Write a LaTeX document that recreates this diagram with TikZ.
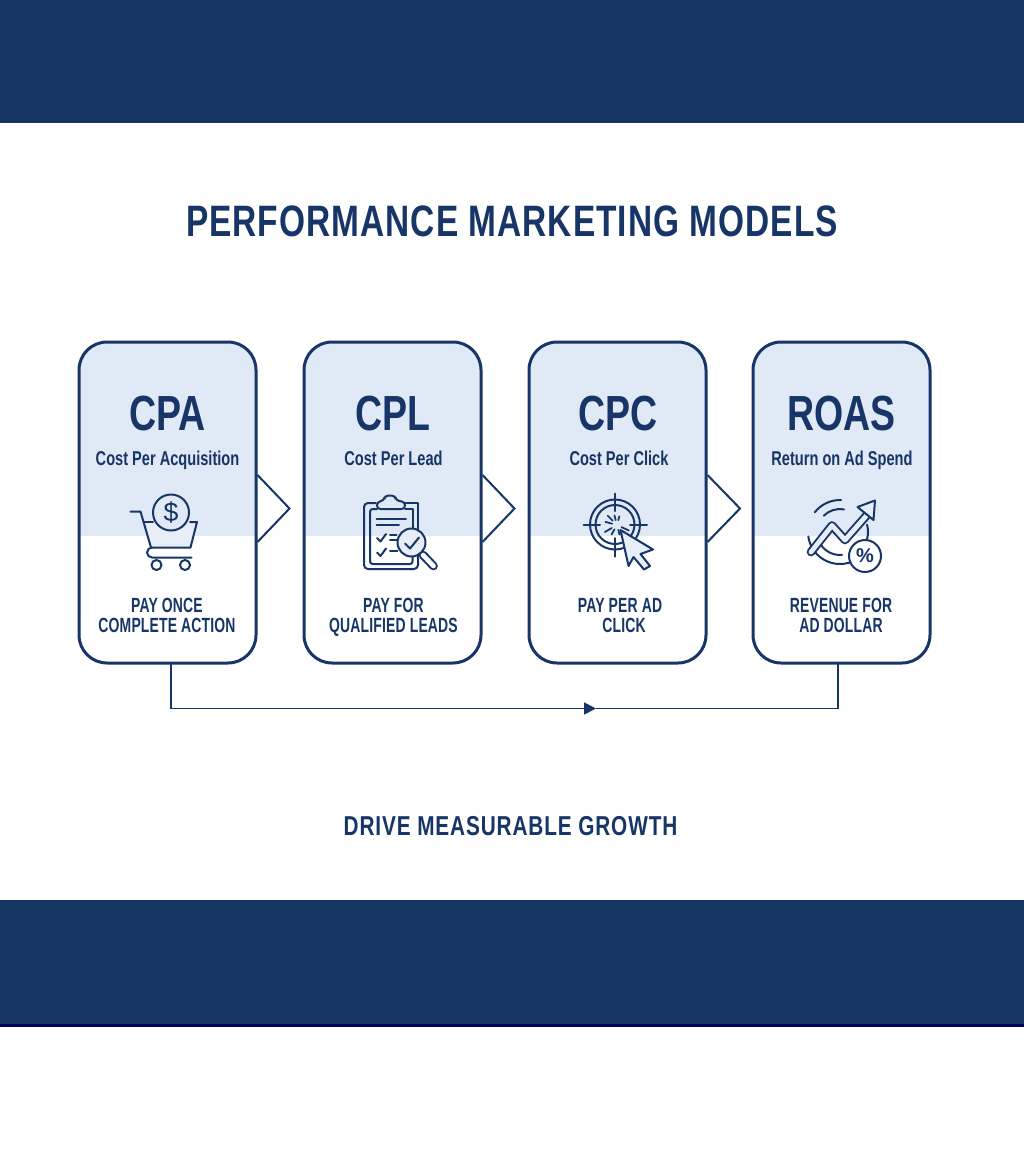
\documentclass[tikz,border=0pt]{standalone}
\usepackage{fontspec}
\setmainfont{Liberation Sans}[FakeStretch=0.76]
\newfontfamily\plainfont{Liberation Sans}
\newfontfamily\titlefont{Liberation Sans}[FakeStretch=0.76,LetterSpace=2.35]
\newfontfamily\footfont{Liberation Sans}[FakeStretch=0.76,LetterSpace=3.2]
\newfontfamily\subfont{Liberation Sans}[FakeStretch=0.73]
\newfontfamily\captfont{Liberation Sans}[FakeStretch=0.68,LetterSpace=0.8]
\usetikzlibrary{arrows.meta,calc}
\definecolor{navy}{HTML}{173566}
\definecolor{band}{HTML}{143461}
\definecolor{edgeline}{HTML}{00006A}
\definecolor{lightblue}{HTML}{E0E9F6}
\definecolor{iconfill}{HTML}{E8EEF8}
\tikzset{
  x=0.75pt,y=-0.75pt,
  bandrect/.style={fill=band,draw=none},
  card/.style={draw=navy,line width=2.25pt,rounded corners=21pt,minimum width=132.75pt,minimum height=240.75pt,inner sep=0pt,
    path picture={\fill[lightblue,sharp corners] (path picture bounding box.north west) rectangle ([yshift=-145.5pt]path picture bounding box.north east);}},
  chev/.style={draw=navy,line width=1.5pt,line join=miter},
  link/.style={draw=navy,line width=1.2pt},
  icon/.style={draw=navy,line width=1.5pt,line cap=round,line join=round},
  title/.style={text=navy,font=\titlefont\bfseries\fontsize{33}{36}\selectfont,inner sep=0pt},
  abbr/.style={text=navy,font=\bfseries\fontsize{37}{40}\selectfont,inner sep=0pt,text height=27pt,text depth=0pt},
  subt/.style={text=navy,font=\subfont\bfseries\fontsize{15}{16}\selectfont,inner sep=0pt,text height=11pt,text depth=3pt},
  capt/.style={text=navy,font=\captfont\bfseries\fontsize{15.4}{15}\selectfont,align=center,inner sep=0pt,text height=11pt,text depth=0pt},
  foot/.style={text=navy,font=\footfont\bfseries\fontsize{20.5}{22}\selectfont,inner sep=0pt},
  glyph/.style={text=navy,inner sep=0pt},
}
\begin{document}
\begin{tikzpicture}
\useasboundingbox (0,0) rectangle (1024,1154);
\fill[white] (0,0) rectangle (1024,1154);
\fill[bandrect] (0,0) rectangle (1024,123);
\fill[bandrect] (0,900) rectangle (1024,1024);
\fill[edgeline] (0,1024) rectangle (1024,1027);

\node[title] (maintitle) at (512,221) {PERFORMANCE MARKETING MODELS};

\coordinate (tipa) at (289.5,508.5);
\coordinate (tipb) at (514.5,508.5);
\coordinate (tipc) at (740,508.5);

\node[card] (card1) at (167.5,502.5) {};
\node[card] (card2) at (392.5,502.5) {};
\node[card] (card3) at (617.5,502.5) {};
\node[card] (card4) at (841.5,502.5) {};

\draw[chev] (card1.east |- 0,475) -- (tipa) -- (card1.east |- 0,542);
\draw[chev] (card2.east |- 0,475) -- (tipb) -- (card2.east |- 0,542);
\draw[chev] (card3.east |- 0,475) -- (tipc) -- (card3.east |- 0,542);

\coordinate (fromc) at (171,663);
\coordinate (toc) at (838,663);
\coordinate (midc) at (596,708.5);
\draw[link,-{Triangle[length=9pt,width=9pt]}] (fromc) |- (midc);
\draw[link] (midc) -| (toc);

\node[abbr] (a1) at (167.5,412) {CPA};
\node[abbr] (a2) at (393,412) {CPL};
\node[abbr] (a3) at (618,412) {CPC};
\node[abbr] (a4) at (841.5,412) {ROAS};
\node[subt] (s1) at (167.5,460) {Cost Per Acquisition};
\node[subt] (s2) at (393.5,460) {Cost Per Lead};
\node[subt] (s3) at (619,460) {Cost Per Click};
\node[subt] (s4) at (842,460) {Return on Ad Spend};
\node[capt] (c1) at (167,625.5) {PAY ONCE\\COMPLETE ACTION};
\node[capt] (c2) at (393.5,625.5) {PAY FOR\\QUALIFIED LEADS};
\node[capt] (c3) at (620,625.5) {PAY PER AD\\\hspace*{6pt}CLICK};
\node[capt] (c4) at (841,625.5) {REVENUE FOR\\AD DOLLAR};

\node[foot] (footer) at (510.5,826) {DRIVE MEASURABLE GROWTH};

% cart icon
\fill[iconfill] (146,522) -- (197,522) -- (191,547) -- (151,547) -- cycle;
\draw[icon] (130.5,511.5) -- (140.5,511.5) -- (151,547.5) -- (190.5,547.5) -- (197,522) -- (190,522);
\draw[icon] (144,522) -- (153,522);
\draw[icon] (191.5,557.5) -- (152,557.5) arc[start angle=90,end angle=270,radius=5] -- (151,547.5);
\draw[icon] (156.5,565) circle[radius=5];
\draw[icon] (185,565) circle[radius=5];
\draw[icon,fill=lightblue] (171,512.5) circle[radius=18];
\node[glyph,font=\plainfont\fontsize{20}{20}\selectfont] (dollar) at (171,513) {\$};

% clipboard icon
\draw[icon,rounded corners=3pt] (376,503) -- (364,503) -- (364,569) -- (418,569) -- (418,535);
\draw[icon,rounded corners=2pt] (377,509) -- (370,509) -- (370,564) -- (412.5,564) -- (412.5,530) ;
\draw[icon] (412.5,530) -- (412.5,509) -- (405,509);
\draw[icon] (418,535) -- (418,503) -- (405,503);
\draw[icon,rounded corners=2.5pt,fill=lightblue] (377,509) -- (377,502) -- (384,500.5) -- (385,495.5) -- (395,495.5) -- (396,500.5) -- (405,502) -- (405,509) -- cycle;
\draw[icon] (376.5,518.5) -- (406,518.5);
\draw[icon] (376.5,525) -- (399,525);
\draw[icon] (377,538) -- (380.5,541.5) -- (386,534);
\draw[icon] (390,534.5) -- (396.5,534.5);
\draw[icon] (390,539.5) -- (396.5,539.5);
\draw[icon] (377,552.5) -- (380.5,556) -- (386,548.5);
\draw[icon] (390,551) -- (397.5,551);
\draw[navy,line width=6.5pt,line cap=round] (423,555) -- (433.5,566);
\draw[white,line width=3.5pt,line cap=round] (423,555) -- (433.5,566);
\draw[icon,fill=iconfill] (411.5,542.5) circle[radius=14];
\draw[icon] (405,543.5) -- (410,548.5) -- (419,537.5);

% target icon
\draw[icon] (615,524.5) circle[radius=25];
\draw[icon] (615,524.5) circle[radius=19.5];
\draw[icon] (583.5,524.5) -- (600,524.5);
\draw[icon] (630,524.5) -- (647,524.5);
\draw[icon] (615,493.5) -- (615,511);
\draw[icon] (615,538) -- (615,556.5);
\foreach \ang/\ra/\rb in {25/5/13,75/5/10,120/5/11,150/6/14,195/5/12,225/6/13,255/5/10,285/5/9}{
  \draw[icon,line width=1.3pt] ($(617,525)+(\ang:\ra)$) -- ($(617,525)+(\ang:\rb)$);
}
\draw[icon,fill=iconfill] (620.5,530) -- (653,549.5) -- (640.5,554) -- (650,566) -- (644,569.5) -- (633.5,557) -- (628.5,566) -- cycle;

% ROAS icon
\draw[icon] (840,532) ++(172:32) arc[start angle=172,end angle=50,radius=32];
\draw[icon] (840,532) ++(15:28) arc[start angle=15,end angle=-15,radius=28];
\draw[icon] (840,532) ++(158:23) arc[start angle=158,end angle=85,radius=23];
\draw[icon] (840,532) ++(218:32) arc[start angle=218,end angle=272,radius=32];
\draw[icon] (840,532) ++(225:23) arc[start angle=225,end angle=280,radius=23];
\draw[navy,line width=6.5pt,line cap=round,line join=round] (811,552) -- (832,525.5) -- (845,540) -- (867,515);
\draw[iconfill,line width=3.6pt,line cap=round,line join=round] (811,552) -- (832,525.5) -- (845,540) -- (867,515);
\draw[icon,fill=iconfill] (857.5,507) -- (875,500.5) -- (873.5,520) -- cycle;
\draw[icon,fill=white] (865,556) circle[radius=16];
\node[glyph,font=\bfseries\plainfont\fontsize{15}{15}\selectfont] (percent) at (865,556) {\%};
\end{tikzpicture}
\end{document}
